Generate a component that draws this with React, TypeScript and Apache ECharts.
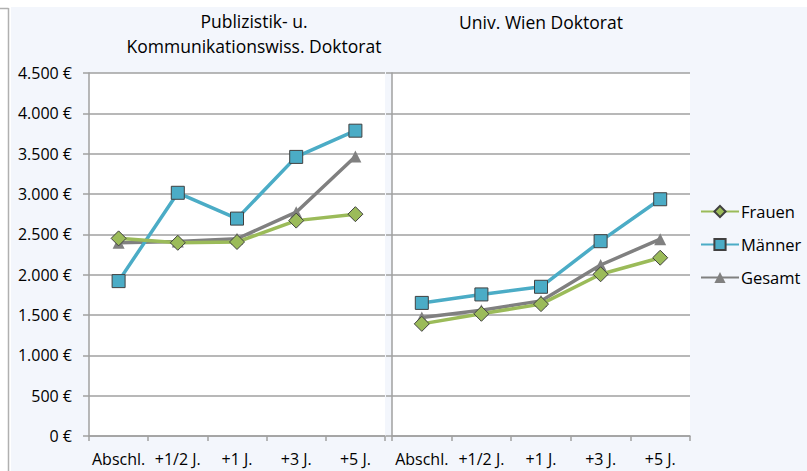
import React, { useEffect, useRef } from "react";
import * as echarts from "echarts";

const categories = ["Abschl.", "+1/2 J.", "+1 J.", "+3 J.", "+5 J."];
const seriesNames = ["Frauen", "Männer", "Gesamt"];
const pkwFrauen = [2450, 2395, 2405, 2670, 2750];
const pkwMaenner = [1920, 3015, 2695, 3460, 3785];
const pkwGesamt = [2395, 2410, 2445, 2775, 3465];
const uwFrauen = [1390, 1515, 1635, 2005, 2210];
const uwMaenner = [1650, 1755, 1850, 2415, 2935];
const uwGesamt = [1470, 1560, 1675, 2120, 2440];
const titleLeft = ["Publizistik- u.", "Kommunikationswiss. Doktorat"];
const titleRight = "Univ. Wien Doktorat";

const FONT = "'Open Sans', 'Noto Sans', sans-serif";
const COLORS = ["#9bbb59", "#4bacc6", "#808080"];
const SYMBOLS = ["diamond", "rect", "triangle"];
const SIZES = [15, 13, 12];

function fmt(v: number) {
  const s = String(Math.round(v));
  return s.replace(/\B(?=(\d{3})+(?!\d))/g, ".") + " €";
}

export default function App() {
  const ref = useRef<HTMLDivElement>(null);
  useEffect(() => {
    if (!ref.current) return;
    const chart = echarts.init(ref.current, null, { renderer: "svg" });
    const data = [
      [pkwFrauen, pkwMaenner, pkwGesamt],
      [uwFrauen, uwMaenner, uwGesamt],
    ];
    const series: any[] = [];
    data.forEach((group, gi) => {
      group.forEach((vals, si) => {
        series.push({
          name: seriesNames[si],
          type: "line",
          xAxisIndex: gi,
          yAxisIndex: gi,
          data: vals,
          symbol: SYMBOLS[si],
          symbolSize: SIZES[si],
          lineStyle: { color: COLORS[si], width: 3.5 },
          itemStyle: {
            color: COLORS[si],
            borderColor: si === 2 ? COLORS[si] : "#404040",
            borderWidth: si === 2 ? 0 : 1,
          },
          z: 10 - si,
        });
      });
    });
    const xAxis = (gi: number) => ({
      type: "category",
      gridIndex: gi,
      data: categories,
      boundaryGap: true,
      axisLine: { lineStyle: { color: "#a0a0a0", width: 1.5 } },
      axisTick: { show: true, interval: 0, length: 5, lineStyle: { color: "#a0a0a0", width: 1.5 } },
      axisLabel: { interval: 0, color: "#000", fontSize: 16, fontFamily: FONT, margin: 15 },
    });
    const yAxis = (gi: number) => ({
      type: "value",
      gridIndex: gi,
      min: 0,
      max: 4500,
      interval: 500,
      axisLine: { show: true, lineStyle: { color: "#a0a0a0", width: 1.5 } },
      axisTick: { show: true, length: 6, lineStyle: { color: "#a0a0a0", width: 1.5 } },
      splitLine: { show: true, lineStyle: { color: "#a0a0a0", width: 1.5 } },
      axisLabel: {
        show: gi === 0,
        color: "#000",
        fontSize: 16,
        fontFamily: FONT,
        margin: 17,
        formatter: (v: number) => fmt(v),
      },
    });
    chart.setOption({
      animation: false,
      backgroundColor: "#ffffff",
      graphic: [
        { type: "rect", z: -10, shape: { x: 11, y: 7, width: 796, height: 464 }, style: { fill: "#f3f6fc" } },
        { type: "line", z: -9, shape: { x1: 8.5, y1: 8, x2: 8.5, y2: 471 }, style: { stroke: "#b0b0b0", lineWidth: 1.5 } },
        { type: "line", z: -9, shape: { x1: 0, y1: 8.5, x2: 8.5, y2: 8.5 }, style: { stroke: "#b0b0b0", lineWidth: 1.5 } },
        { type: "text", x: 254, y: 12, style: { text: titleLeft[0], fill: "#000", font: `17.5px ${FONT}`, align: "center" } },
        { type: "text", x: 254, y: 37, style: { text: titleLeft[1], fill: "#000", font: `17.5px ${FONT}`, align: "center" } },
        { type: "text", x: 541, y: 13, style: { text: titleRight, fill: "#000", font: `17.5px ${FONT}`, align: "center" } },
      ],
      grid: [
        { left: 89, top: 73, width: 296, height: 363, show: true, backgroundColor: "#ffffff", borderWidth: 0 },
        { left: 392, top: 73, width: 298, height: 363, show: true, backgroundColor: "#ffffff", borderWidth: 0 },
      ],
      xAxis: [xAxis(0), xAxis(1)],
      yAxis: [yAxis(0), yAxis(1)],
      legend: {
        data: seriesNames,
        orient: "vertical",
        left: 695,
        top: 198,
        itemWidth: 38,
        itemHeight: 14,
        itemGap: 16,
        textStyle: { color: "#000", fontSize: 16.5, fontFamily: FONT, padding: [0, 0, 0, -3] },
      },
      series,
    });
    return () => chart.dispose();
  }, []);
  return (
    <div
      ref={ref}
      style={{ position: "fixed", left: 0, top: 0, width: 807, height: 471 }}
    />
  );
}
